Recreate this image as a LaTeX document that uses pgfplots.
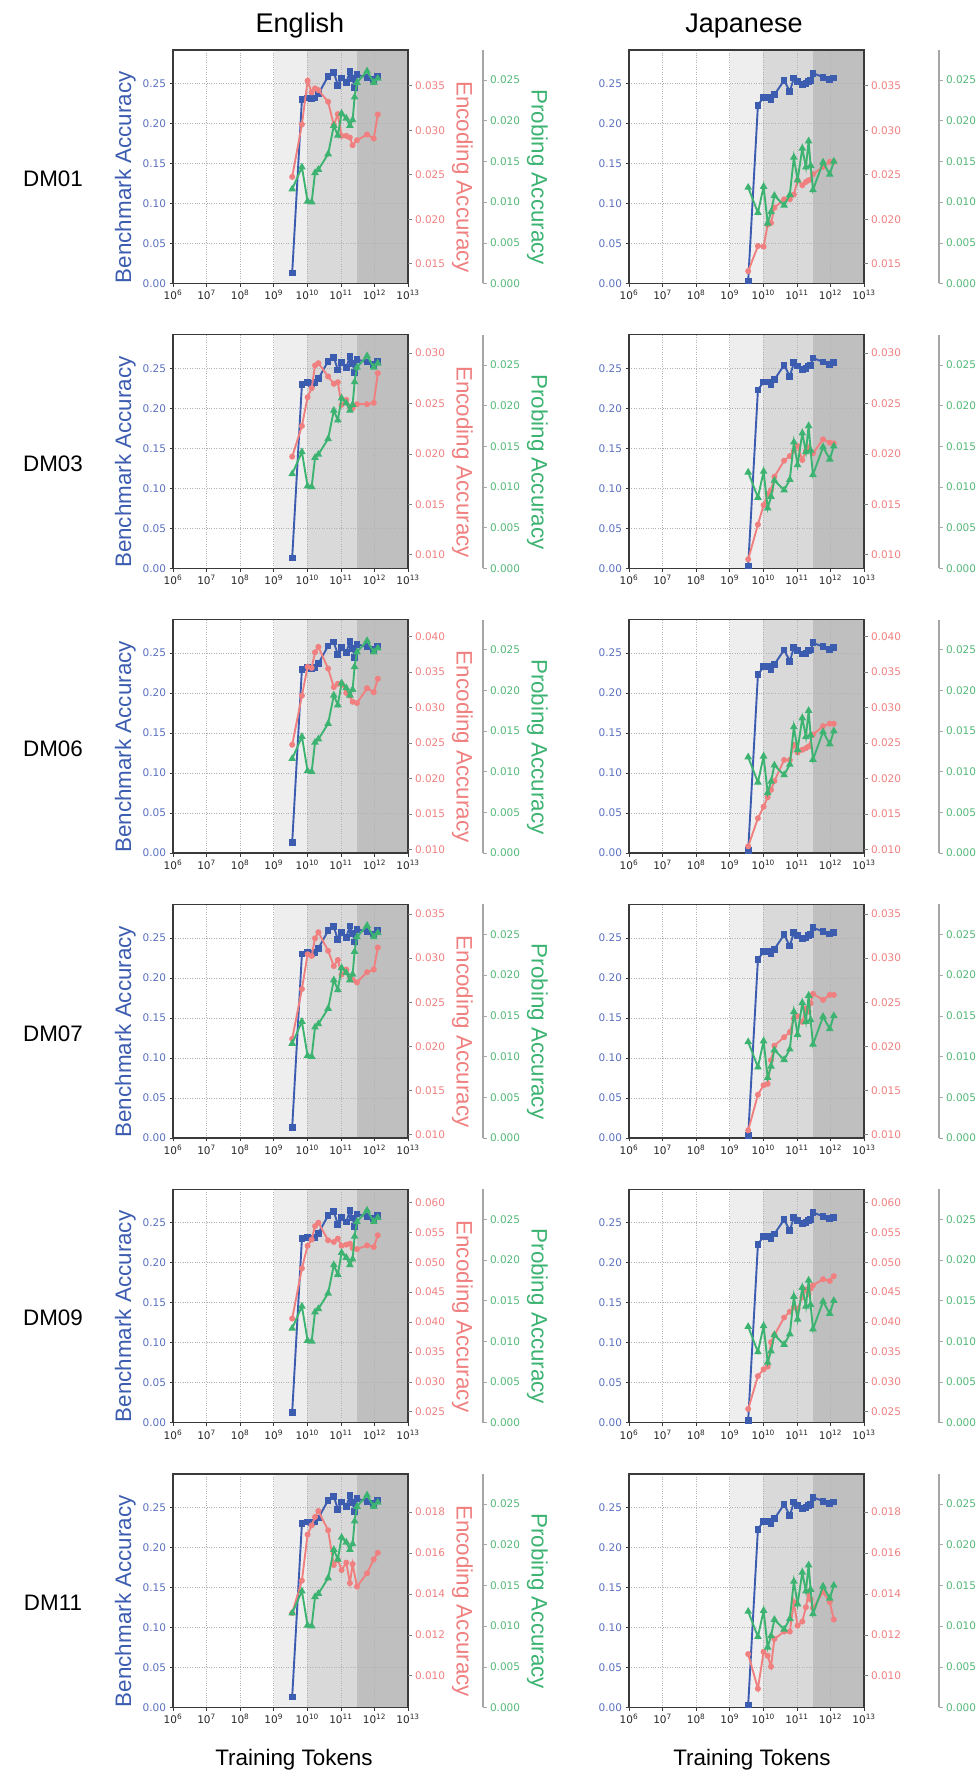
\documentclass[border=0pt]{standalone}
\usepackage{fontspec}
\setmainfont{DejaVu Sans}
\newfontfamily\labfont{Liberation Sans}
\usepackage{pgfplots}
\usepackage{pgfplotstable}
\pgfplotsset{compat=1.18}

\definecolor{cblue}{HTML}{3C5CB0}
\definecolor{cbluet}{HTML}{5A70C0}
\definecolor{cred}{HTML}{F08080}
\definecolor{cgreen}{HTML}{3CB371}
\definecolor{cgreent}{HTML}{55B878}
\definecolor{shA}{HTML}{EEEEEE}
\definecolor{shB}{HTML}{D9D9D9}
\definecolor{shC}{HTML}{BFBFBF}
\definecolor{framec}{HTML}{3A3A3A}

% English: tokens, benchmark, probing, encoding for DM01 DM03 DM06 DM07 DM09 DM11
\pgfplotstableread{
x       blue  green  r1      r2      r3      r4      r5      r6
3.55e9  0.013 0.0116 0.02476 0.01972 0.02475 0.02084 0.04058 0.01307
6.92e9  0.230 0.0143 0.03065 0.02277 0.03166 0.02649 0.04896 0.01465
1.02e10 0.232 0.0101 0.03556 0.02562 0.03572 0.03044 0.05275 0.01690
1.35e10 0.231 0.0100 0.03425 0.02652 0.03557 0.03025 0.05377 0.01735
1.70e10 0.232 0.0136 0.03470 0.02877 0.03777 0.03225 0.05603 0.01776
2.14e10 0.237 0.0140 0.03451 0.02900 0.03853 0.03294 0.05660 0.01805
4.17e10 0.259 0.0159 0.03320 0.02768 0.03548 0.03083 0.05366 0.01711
6.17e10 0.264 0.0194 0.03057 0.02695 0.03286 0.02910 0.05338 0.01541
8.13e10 0.248 0.0182 0.03181 0.02711 0.03333 0.02979 0.05394 0.01566
1.05e11 0.257 0.0209 0.02937 0.02486 0.03333 0.02814 0.05275 0.01517
1.45e11 0.251 0.0203 0.02937 0.02536 0.03205 0.02871 0.05292 0.01553
1.86e11 0.265 0.0194 0.02918 0.02463 0.03166 0.02787 0.05309 0.01453
2.24e11 0.256 0.0201 0.02832 0.02453 0.03080 0.02756 0.05235 0.01546
2.57e11 0.245 0.0229 nan     nan     nan     nan     nan     nan
3.02e11 0.261 0.0247 0.02888 0.02493 0.03062 0.02725 0.05218 0.01436
6.03e11 0.258 0.0261 0.02952 0.02493 0.03271 0.02841 0.05281 0.01501
9.55e11 0.255 0.0247 0.02907 0.02506 0.03214 0.02871 0.05253 0.01569
1.26e12 0.259 0.0252 0.03177 0.02801 0.03405 0.03121 0.05450 0.01601
}\tabE

% Japanese
\pgfplotstableread{
x       blue  green  r1      r2      r3      r4      r5      r6
3.55e9  0.003 0.0118 0.01417 0.00953 0.01045 0.01046 0.02547 0.01106
6.92e9  0.223 0.0087 0.01699 0.01298 0.01441 0.01450 0.03096 0.00937
1.02e10 0.233 0.0119 0.01692 0.01491 0.01603 0.01558 0.03210 0.01117
1.35e10 0.233 0.0074 0.01939 0.01600 0.01737 0.01573 0.03255 0.01098
1.70e10 0.230 0.0088 0.01958 0.01640 0.01841 0.01842 0.03662 0.01045
2.14e10 0.236 0.0108 0.02130 0.01773 0.01965 0.02007 0.03781 0.01180
4.17e10 0.254 0.0096 0.02224 0.01932 0.02261 0.02103 0.04075 0.01216
6.17e10 0.240 0.0109 0.02224 0.01978 0.02261 0.02161 0.04172 0.01216
8.13e10 0.257 0.0155 0.02277 0.02031 0.02475 0.02315 0.04245 0.01360
1.05e11 0.253 0.0127 0.02438 0.02078 0.02366 0.02341 0.04217 0.01245
1.45e11 0.249 0.0166 0.02382 0.01939 0.02404 0.02276 0.04415 0.01265
1.86e11 0.250 0.0143 0.02419 0.02028 0.02427 0.02430 0.04545 0.01335
2.24e11 0.253 0.0175 0.02438 0.02065 0.02451 0.02392 0.04471 0.01409
2.57e11 0.254 0.0145 nan     nan     nan     0.02487 0.04556 0.01373
3.02e11 0.263 0.0115 0.02506 0.02005 0.02618 0.02595 0.04613 0.01331
6.03e11 0.258 0.0149 0.02588 0.02144 0.02737 0.02526 0.04715 0.01409
9.55e11 0.255 0.0134 0.02645 0.02111 0.02771 0.02583 0.04687 0.01360
1.26e12 0.257 0.0150 0.02645 0.02104 0.02771 0.02583 0.04766 0.01275
}\tabJ

\pgfplotsset{
  panelbase/.style={scale only axis, width=235pt, height=233.5pt,
    xmin=1e6, xmax=1e13, anchor=south west,
    xminorticks=false, yminorticks=false, scaled y ticks=false,
    tick align=outside, major tick length=3.5pt,
    tick label style={font=\fontsize{10.5}{12}\selectfont},
    ylabel style={font=\labfont\fontsize{22.4}{26}\selectfont, at={(ticklabel cs:0.455)}}},
  bgaxis/.style={panelbase, hide axis, ymin=0, ymax=1},
  blueaxis/.style={panelbase, ymin=0, ymax=0.292,
    ytick={0,0.05,0.10,0.15,0.20,0.25},
    xtick={1e6,1e7,1e8,1e9,1e10,1e11,1e12,1e13},
    xticklabels={10\textsuperscript{6},10\textsuperscript{7},10\textsuperscript{8},10\textsuperscript{9},10\textsuperscript{10},10\textsuperscript{11},10\textsuperscript{12},10\textsuperscript{13}},
    xtick pos=left, ytick pos=left,
    grid=major, grid style={dotted, black!30, line width=0.6pt},
    axis line style={framec, line width=1.3pt},
    tick style={framec, line width=0.6pt},
    yticklabel style={cbluet, /pgf/number format/.cd, fixed, fixed zerofill, precision=2, assume math mode=true},
    xticklabel style={black!85}},
  redaxis/.style={panelbase, axis x line=none, axis y line*=right,
    y axis line style={draw=none},
    ytick style={black!50, line width=0.6pt},
    yticklabel style={cred, /pgf/number format/.cd, fixed, fixed zerofill, precision=3, assume math mode=true},
    ylabel style={cred, rotate=180}},
  greenaxis/.style={panelbase, width=310pt, xmax=1.714e15, ymin=0, ymax=0.0287,
    ytick={0,0.005,0.010,0.015,0.020,0.025},
    axis x line=none, axis y line*=right,
    y axis line style={black!35, line width=1.3pt},
    ytick style={black!35, line width=0.6pt},
    yticklabel style={cgreent, /pgf/number format/.cd, fixed, fixed zerofill, precision=3, assume math mode=true},
    ylabel style={cgreen, rotate=180}},
  blueE/.style={ylabel={Benchmark Accuracy}, ylabel style={cblue}},
  blueJ/.style={},
  redE/.style={ylabel={Encoding Accuracy}},
  redJ/.style={},
  greenE/.style={ylabel={Probing Accuracy}},
  greenJ/.style={},
  bluestyle/.style={cblue, line width=1.9pt, mark=square*, mark size=2.4pt},
  redstyle/.style={cred, line width=1.9pt, mark=*, mark size=2pt},
  greenstyle/.style={cgreen, line width=1.9pt, mark=triangle*, mark size=2.6pt},
}

% #1 table, #2 lang, #3 xleft, #4 ybottom, #5 red column, #6 red min, #7 red max, #8 red ticks
\newcommand{\panel}[8]{%
  \begin{semilogxaxis}[bgaxis, at={(#3pt,#4pt)}]
    \addplot[fill=shA, draw=none] coordinates {(1e9,1) (1e10,1)} \closedcycle;
    \addplot[fill=shB, draw=none] coordinates {(1e10,1) (3e11,1)} \closedcycle;
    \addplot[fill=shC, draw=none] coordinates {(3e11,1) (1e13,1)} \closedcycle;
  \end{semilogxaxis}
  \begin{semilogxaxis}[blueaxis, blue#2, at={(#3pt,#4pt)}]
    \addplot[bluestyle] table[x=x, y=blue] {#1};
  \end{semilogxaxis}
  \begin{semilogxaxis}[redaxis, red#2, at={(#3pt,#4pt)}, ymin=#6, ymax=#7, ytick={#8}]
    \addplot[redstyle] table[x=x, y=#5] {#1};
  \end{semilogxaxis}
  \begin{semilogxaxis}[greenaxis, green#2, at={(#3pt,#4pt)}]
    \addplot[greenstyle] table[x=x, y=green] {#1};
  \end{semilogxaxis}
}

\begin{document}
\begin{tikzpicture}
\useasboundingbox (0pt,0pt) rectangle (980pt,1773pt);
\tikzset{lab/.style={font=\labfont\fontsize{22.4}{26}\selectfont, text=black},
         ttl/.style={font=\labfont\fontsize{27}{31}\selectfont, text=black, anchor=base}}

\node[ttl] at (300pt,1740pt) {English};
\node[ttl] at (744pt,1740pt) {Japanese};
\node[lab, anchor=base] at (294pt,8pt) {Training Tokens};
\node[lab, anchor=base] at (752pt,8pt) {Training Tokens};

\node[lab] at (53pt,1594pt) {DM01};
\node[lab] at (53pt,1309pt) {DM03};
\node[lab] at (53pt,1024pt) {DM06};
\node[lab] at (53pt,739pt) {DM07};
\node[lab] at (53pt,455pt) {DM09};
\node[lab] at (53pt,170pt) {DM11};

\panel{\tabE}{E}{173}{1489.5}{r1}{0.01278}{0.03902}{0.015,0.020,0.025,0.030,0.035}
\panel{\tabJ}{J}{629}{1489.5}{r1}{0.01278}{0.03902}{0.015,0.020,0.025,0.030,0.035}
\panel{\tabE}{E}{173}{1204.7}{r2}{0.00864}{0.03182}{0.010,0.015,0.020,0.025,0.030}
\panel{\tabJ}{J}{629}{1204.7}{r2}{0.00864}{0.03182}{0.010,0.015,0.020,0.025,0.030}
\panel{\tabE}{E}{173}{919.9}{r3}{0.0095}{0.04237}{0.010,0.015,0.020,0.025,0.030,0.035,0.040}
\panel{\tabJ}{J}{629}{919.9}{r3}{0.0095}{0.04237}{0.010,0.015,0.020,0.025,0.030,0.035,0.040}
\panel{\tabE}{E}{173}{635.1}{r4}{0.0096}{0.0361}{0.010,0.015,0.020,0.025,0.030,0.035}
\panel{\tabJ}{J}{629}{635.1}{r4}{0.0096}{0.0361}{0.010,0.015,0.020,0.025,0.030,0.035}
\panel{\tabE}{E}{173}{350.3}{r5}{0.02317}{0.0622}{0.025,0.030,0.035,0.040,0.045,0.050,0.055,0.060}
\panel{\tabJ}{J}{629}{350.3}{r5}{0.02317}{0.0622}{0.025,0.030,0.035,0.040,0.045,0.050,0.055,0.060}
\panel{\tabE}{E}{173}{65.5}{r6}{0.00845}{0.01986}{0.010,0.012,0.014,0.016,0.018}
\panel{\tabJ}{J}{629}{65.5}{r6}{0.00845}{0.01986}{0.010,0.012,0.014,0.016,0.018}
\end{tikzpicture}
\end{document}
